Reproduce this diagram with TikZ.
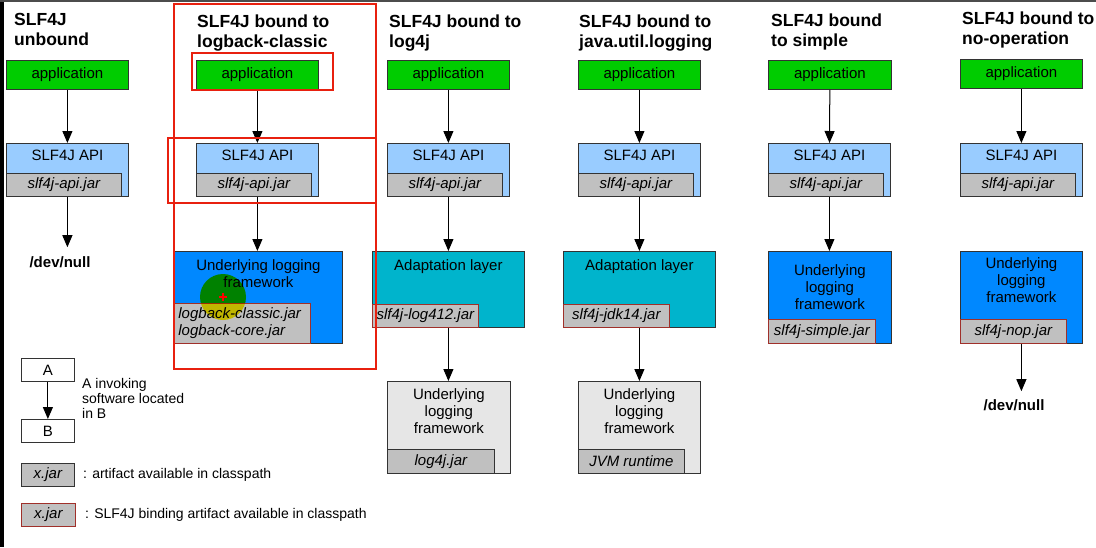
\documentclass[tikz,border=0pt]{standalone}
\usepackage{fontspec}
\setmainfont{Liberation Sans}
\usetikzlibrary{arrows.meta}
\definecolor{appgreen}{HTML}{00CC00}
\definecolor{apiblue}{HTML}{99CCFF}
\definecolor{jargray}{HTML}{C0C0C0}
\definecolor{fwblue}{HTML}{0088FF}
\definecolor{adaptteal}{HTML}{00B4CC}
\definecolor{fwgray}{HTML}{E6E6E6}
\definecolor{markred}{HTML}{E8200F}
\definecolor{jarred}{HTML}{A0302A}
\tikzset{
  body/.style={font=\fontsize{15}{17}\selectfont},
  box/.style={draw=black!80, line width=0.8pt, inner sep=0pt, anchor=north west},
  app/.style={box, body, fill=appgreen, minimum width=122pt, minimum height=29pt},
  api/.style={box, fill=apiblue, minimum width=122pt, minimum height=53pt},
  adapt/.style={box, fill=adaptteal, minimum width=152pt, minimum height=76pt},
  jar/.style={box, anchor=south west, fill=jargray, minimum height=23pt,
    font=\fontsize{15}{17}\selectfont\itshape},
  bindjar/.style={jar, draw=jarred},
  boxtext/.style={body, anchor=north, inner sep=0pt, align=center},
  title/.style={anchor=north west, align=left, inner sep=0pt,
    font=\fontsize{17.5}{20}\selectfont\bfseries},
  nulltext/.style={inner sep=0pt, font=\fontsize{15}{17}\selectfont\bfseries},
  call/.style={-{Triangle[length=12pt,width=10pt]}, line width=1pt},
  redmark/.style={markred, line width=2.2pt}
}
\begin{document}
\begin{tikzpicture}[x=1pt,y=-1pt]
\useasboundingbox (0,0) rectangle (1096,547);
\fill[black] (0,0) rectangle (4,547);
\draw[black!70, line width=1.5pt] (0,0.75) -- (1096,0.75);

% SLF4J unbound
\node[title] (t1) at (14,13) {SLF4J\\unbound};
\node[app] (app1) at (6,60) {application};
\node[api] (api1) at (6,143) {};
\node[boxtext] (apit1) at ([yshift=-7pt]api1.north) {SLF4J API};
\node[jar, minimum width=115pt] (jar1) at (api1.south west) {slf4j-api.jar};
\node[nulltext] (null1) at (60,262) {/dev/null};
\draw[call] (app1) -- (api1);
\draw[call] (api1.south) -- ([yshift=9pt]api1.south |- null1.north);

% logback-classic
\node[title] (t2) at (197,15) {SLF4J bound to\\logback-classic};
\node[app] (app2) at (196,60) {application};
\node[api] (api2) at (196,143) {};
\node[boxtext] (apit2) at ([yshift=-7pt]api2.north) {SLF4J API};
\node[jar, minimum width=115pt] (jar2) at (api2.south west) {slf4j-api.jar};
\node[box, fill=fwblue, minimum width=168pt, minimum height=92pt] (fw2) at (174,251) {};
\node[boxtext] (fwt2) at ([yshift=-8pt]fw2.north) {Underlying logging\\framework};
\node[bindjar, minimum height=40pt, inner xsep=4pt, text width=128pt, align=left] (bjar2)
  at (fw2.south west) {logback-classic.jar\\logback-core.jar};
\draw[call] (app2) -- (api2);
\draw[call] (api2.south) -- (api2.south |- fw2.north);

% log4j
\node[title] (t3) at (389,15) {SLF4J bound to\\log4j};
\node[app] (app3) at (387,60) {application};
\node[api] (api3) at (387,143) {};
\node[boxtext] (apit3) at ([yshift=-7pt]api3.north) {SLF4J API};
\node[jar, minimum width=115pt] (jar3) at (api3.south west) {slf4j-api.jar};
\node[adapt] (ad3) at (372,251) {};
\node[boxtext] (adt3) at ([yshift=-8pt]ad3.north) {Adaptation layer};
\node[bindjar, minimum width=106pt] (bjar3) at (ad3.south west) {slf4j-log412.jar};
\node[box, fill=fwgray, minimum width=123pt, minimum height=92pt] (fw3) at (387,381) {};
\node[boxtext] (fwt3) at ([yshift=-7pt]fw3.north) {Underlying\\logging\\framework};
\node[jar, minimum width=107pt, minimum height=24pt] (fjar3) at (fw3.south west) {log4j.jar};
\draw[call] (app3) -- (api3);
\draw[call] (api3.south) -- (api3.south |- ad3.north);
\draw[call] (ad3.south) -- (ad3.south |- fw3.north);

% java.util.logging
\node[title] (t4) at (579,15) {SLF4J bound to\\java.util.logging};
\node[app] (app4) at (578,60) {application};
\node[api] (api4) at (578,143) {};
\node[boxtext] (apit4) at ([yshift=-7pt]api4.north) {SLF4J API};
\node[jar, minimum width=115pt] (jar4) at (api4.south west) {slf4j-api.jar};
\node[adapt] (ad4) at (563,251) {};
\node[boxtext] (adt4) at ([yshift=-8pt]ad4.north) {Adaptation layer};
\node[bindjar, minimum width=106pt] (bjar4) at (ad4.south west) {slf4j-jdk14.jar};
\node[box, fill=fwgray, minimum width=122pt, minimum height=92pt] (fw4) at (578,381) {};
\node[boxtext] (fwt4) at ([yshift=-7pt]fw4.north) {Underlying\\logging\\framework};
\node[jar, minimum width=106pt, minimum height=24pt] (fjar4) at (fw4.south west) {JVM runtime};
\draw[call] (app4) -- (api4);
\draw[call] (api4.south) -- (api4.south |- ad4.north);
\draw[call] (ad4.south) -- (ad4.south |- fw4.north);

% simple
\node[title] (t5) at (771,14) {SLF4J bound\\to simple};
\node[app, minimum width=123pt] (app5) at (768,60) {application};
\node[api] (api5) at (768,143) {};
\node[boxtext] (apit5) at ([yshift=-7pt]api5.north) {SLF4J API};
\node[jar, minimum width=115pt] (jar5) at (api5.south west) {slf4j-api.jar};
\node[box, fill=fwblue, minimum width=123pt, minimum height=92pt] (fw5) at (768,251) {};
\node[boxtext] (fwt5) at ([yshift=-13pt]fw5.north) {Underlying\\logging\\framework};
\node[bindjar, minimum width=107pt, minimum height=24pt] (bjar5) at (fw5.south west) {slf4j-simple.jar};
\draw[call] (app5) -- (api5);
\draw[call] (api5.south) -- (api5.south |- fw5.north);

% no-operation
\node[title] (t6) at (962,12) {SLF4J bound to\\no-operation};
\node[app] (app6) at (960,59) {application};
\node[api] (api6) at (960,143) {};
\node[boxtext] (apit6) at ([yshift=-7pt]api6.north) {SLF4J API};
\node[jar, minimum width=115pt] (jar6) at (api6.south west) {slf4j-api.jar};
\node[box, fill=fwblue, minimum width=122pt, minimum height=92pt] (fw6) at (960,251) {};
\node[boxtext] (fwt6) at ([yshift=-6pt]fw6.north) {Underlying\\logging\\framework};
\node[bindjar, minimum width=106pt, minimum height=24pt] (bjar6) at (fw6.south west) {slf4j-nop.jar};
\node[nulltext] (null6) at (1014,405) {/dev/null};
\draw[call] (app6) -- (api6);
\draw[call] (fw6.south) -- ([yshift=8pt]fw6.south |- null6.north);

% legend
\node[box, body, fill=white, minimum width=53pt, minimum height=23pt] (lega) at (21,358) {A};
\node[box, body, fill=white, minimum width=53pt, minimum height=23pt] (legb) at (21,419) {B};
\draw[call] (lega) -- (legb);
\node[anchor=north west, align=left, inner sep=0pt, font=\fontsize{14}{15}\selectfont]
  (legt) at (82,378) {A invoking\\software located\\in B};
\node[jar, anchor=north west, minimum width=53pt] (legjar) at (21,463) {x.jar};
\node[anchor=west, inner sep=0pt, font=\fontsize{14}{15}\selectfont]
  (legjt) at (83,475) {: artifact available in classpath};
\node[bindjar, anchor=north west, minimum width=54pt] (legbind) at (21,503) {x.jar};
\node[anchor=west, inner sep=0pt, font=\fontsize{14}{15}\selectfont]
  (legbt) at (85,515) {: SLF4J binding artifact available in classpath};

% red marks and pointer
\draw[redmark] (174,4) rectangle (376,369);
\draw[redmark] (168,138) rectangle (376,203);
\draw[redmark] (192,53) rectangle (333,90);
\begin{scope}[blend mode=multiply]
\fill[yellow] (223,297) circle (23pt);
\end{scope}
\draw[red, line width=1.5pt] (219,297) -- (227,297) (223,293) -- (223,301);
\end{tikzpicture}
\end{document}
